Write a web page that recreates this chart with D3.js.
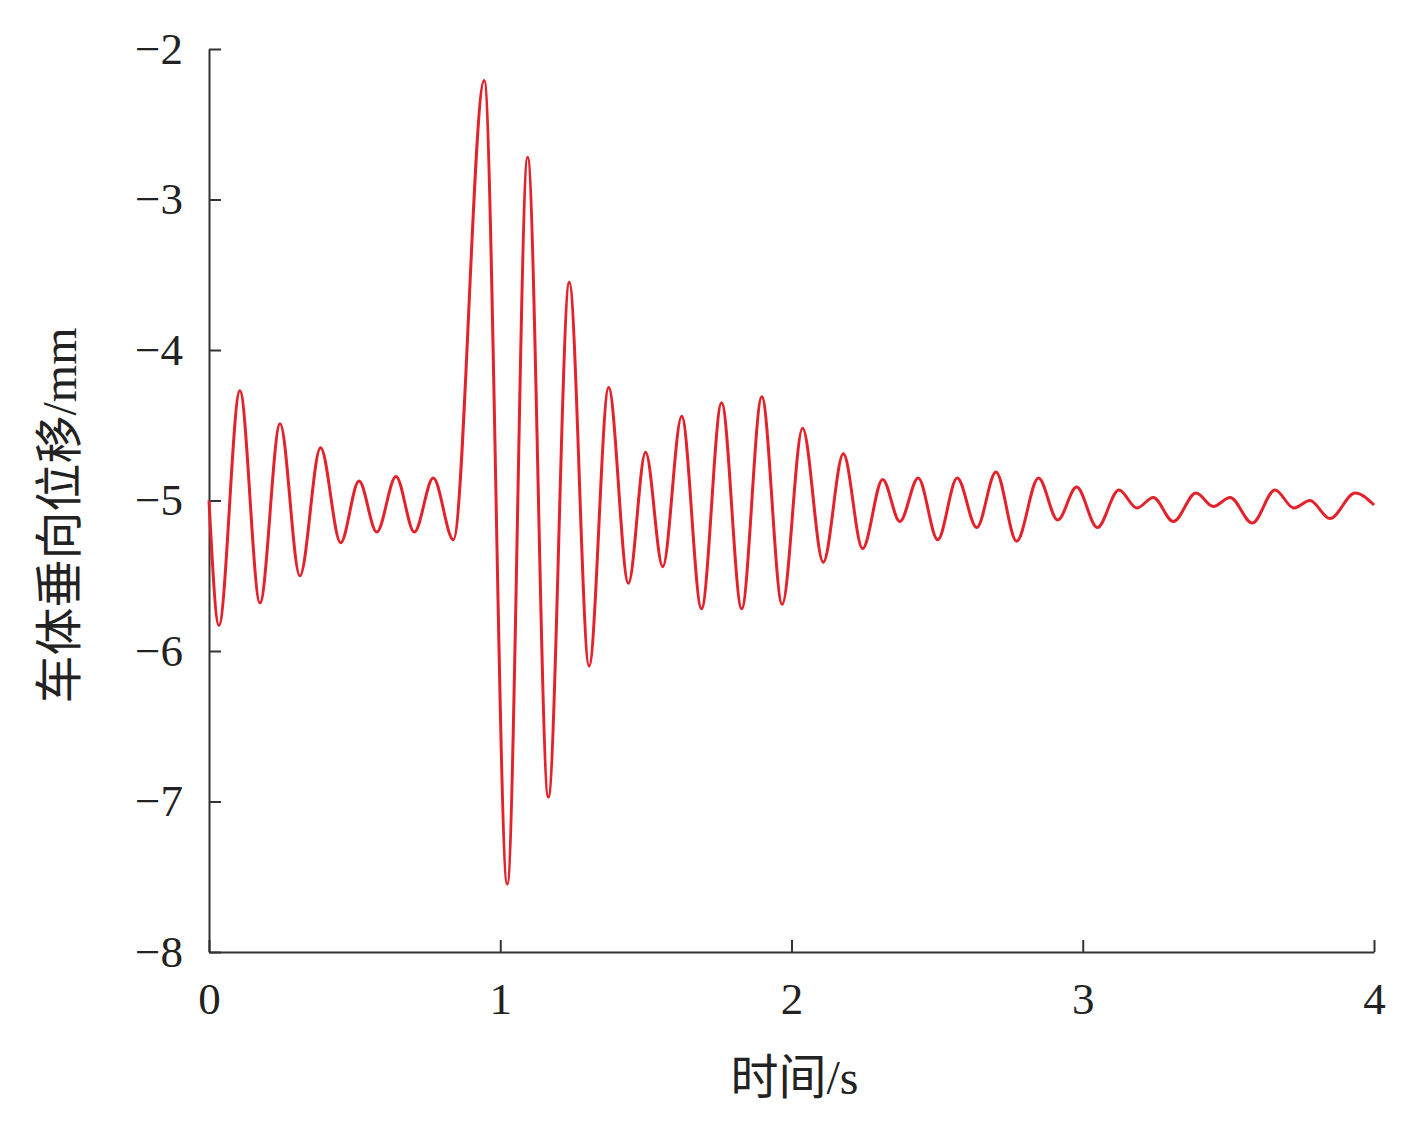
<!DOCTYPE html>
<html>
<head>
<meta charset="utf-8">
<script src="https://cdn.jsdelivr.net/npm/d3@7"></script>
<style>
  html, body { margin: 0; padding: 0; background: #fff; }
  .axis path, .axis line { stroke: #333; stroke-width: 2; }
  .axis text { font-family: "Liberation Serif", "Times New Roman", serif; font-size: 45px; fill: #222; }
  .title { font-family: "Liberation Serif", "Noto Sans CJK SC", serif; font-size: 48px; fill: #222; }
</style>
</head>
<body>
<div id="chart"></div>
<script>
// extrema of the displacement trace (time in s, displacement in mm)
const time = [
  0, 0.034, 0.106, 0.175, 0.244, 0.312, 0.383, 0.452, 0.515, 0.576, 0.642, 0.705, 0.770, 0.839,
  0.945, 1.024, 1.094, 1.165, 1.237, 1.305, 1.372, 1.440, 1.499, 1.558, 1.623, 1.691, 1.760,
  1.829, 1.898, 1.968, 2.038, 2.109, 2.178, 2.244, 2.313, 2.372, 2.435, 2.502, 2.569, 2.636,
  2.702, 2.773, 2.848, 2.914, 2.979, 3.050, 3.124, 3.186, 3.242, 3.311, 3.389, 3.448, 3.506,
  3.582, 3.660, 3.725, 3.780, 3.849, 3.935, 4.0
];
const displacement = [
  -5.0, -5.83, -4.27, -5.68, -4.49, -5.50, -4.65, -5.28, -4.87, -5.21, -4.84, -5.21, -4.85, -5.26,
  -2.21, -7.55, -2.72, -6.97, -3.55, -6.10, -4.25, -5.55, -4.68, -5.44, -4.44, -5.72, -4.35,
  -5.72, -4.31, -5.69, -4.52, -5.41, -4.69, -5.32, -4.86, -5.14, -4.85, -5.26, -4.85, -5.18,
  -4.81, -5.27, -4.85, -5.13, -4.91, -5.18, -4.93, -5.05, -4.98, -5.14, -4.95, -5.04, -4.98,
  -5.15, -4.93, -5.05, -5.00, -5.12, -4.95, -5.03
];
const xTicks = [0, 1, 2, 3, 4];
const yTicks = [-2, -3, -4, -5, -6, -7, -8];

const W = 1415, H = 1128;
const margin = {top: 49, right: 41, bottom: 176, left: 209};
const width = W - margin.left - margin.right;
const height = H - margin.top - margin.bottom;

const svg = d3.select('#chart').append('svg')
  .attr('width', W)
  .attr('height', H);
const g = svg.append('g')
  .attr('transform', `translate(${margin.left},${margin.top})`);

const x = d3.scaleLinear().domain([0, 4]).range([0, width]);
const y = d3.scaleLinear().domain([-8, -2]).range([height, 0]);

g.append('g')
  .attr('class', 'axis')
  .attr('transform', `translate(0,${height})`)
  .call(d3.axisBottom(x).tickValues(xTicks).tickSize(-12).tickSizeOuter(0).tickPadding(30).tickFormat(d3.format('d')));

g.append('g')
  .attr('class', 'axis')
  .call(d3.axisLeft(y).tickValues(yTicks).tickSize(-12).tickSizeOuter(0).tickPadding(26).tickFormat(d3.format('d')));

const points = time.map((t, i) => [t, displacement[i]]);
const line = d3.line()
  .x(d => x(d[0]))
  .y(d => y(d[1]))
  .curve(d3.curveMonotoneX);

g.append('path')
  .datum(points)
  .attr('fill', 'none')
  .attr('stroke', '#e3222b')
  .attr('stroke-width', 3)
  .attr('stroke-linejoin', 'round')
  .attr('d', line);

g.append('text')
  .attr('class', 'title')
  .attr('x', width / 2 + 3)
  .attr('y', height + 142)
  .attr('text-anchor', 'middle')
  .text('时间/s');

g.append('text')
  .attr('class', 'title')
  .attr('transform', `translate(${-margin.left + 76},${height / 2 + 15}) rotate(-90)`)
  .attr('text-anchor', 'middle')
  .text('车体垂向位移/mm');
</script>
</body>
</html>
